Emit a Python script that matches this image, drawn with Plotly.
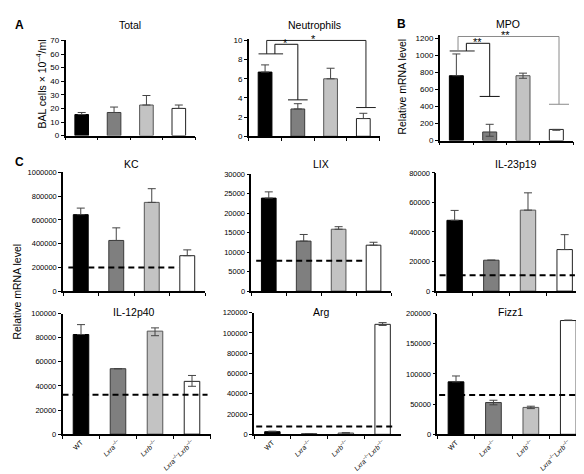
import plotly.graph_objects as go

W, H = 584, 474
FONT = "Liberation Sans, Arial, sans-serif"

# ---------------- data ----------------
groups = ["WT", "<i>Lxra</i><sup>–/–</sup>", "<i>Lxrb</i><sup>–/–</sup>",
          "<i>Lxra</i><sup>–/–</sup><i>Lxrb</i><sup>–/–</sup>"]
bar_colors = ["#000000", "#7f7f7f", "#c3c3c3", "#ffffff"]
bar_lines = ["#000000", "#3a3a3a", "#555555", "#222222"]

total_vals = [15.5, 17, 22.5, 20]
total_plus = [1.5, 4, 7, 2.5]
total_minus = [0, 0, 0, 0]

neut_vals = [6.7, 2.85, 6.0, 1.85]
neut_plus = [0.75, 0.55, 1.1, 0.55]
neut_minus = [0, 0, 0, 0]

mpo_vals = [760, 100, 760, 130]
mpo_plus = [255, 90, 30, 0]
mpo_minus = [0, 50, 30, 10]

kc_vals = [645000, 428000, 748000, 300000]
kc_plus = [55000, 106000, 115000, 49000]
kc_minus = [0, 0, 0, 0]
kc_base = 200000

lix_vals = [23900, 12850, 15900, 11800]
lix_plus = [1600, 1700, 650, 750]
lix_minus = [0, 0, 0, 0]
lix_base = 7800

il23_vals = [47900, 20900, 54800, 28100]
il23_plus = [6700, 0, 11700, 10100]
il23_minus = [0, 0, 0, 0]
il23_base = 10800

il12_vals = [82700, 54300, 85500, 43800]
il12_plus = [8200, 0, 2700, 4900]
il12_minus = [0, 0, 3800, 4100]
il12_base = 32600

arg_vals = [2600, 600, 1300, 108500]
arg_plus = [500, 0, 300, 1700]
arg_minus = [0, 0, 0, 1100]
arg_base = 7700

fizz_vals = [87000, 52700, 44600, 188600]
fizz_plus = [9700, 3800, 2000, 800]
fizz_minus = [0, 3800, 2000, 0]
fizz_base = 65200

# significance brackets: (from-group level, top level, target level, label)
neut_sig = [dict(start=8.6, top=10.0, end=3.0, label="*", target=3),
            dict(start=8.6, top=9.6, end=3.8, label="*", target=1)]
mpo_sig = [dict(start=1050, top=1220, end=425, label="**", target=3),
           dict(start=1050, top=1140, end=517, label="**", target=1)]

# ---------------- layout of panels (pixel geometry) ----------------
panels = [
    dict(title="Total", vals=total_vals, plus=total_plus, minus=total_minus,
         px=(57.5, 187), y0=126, ytop=29, tmax=70, rmax=70, dt=10, tpos=(122, 13)),
    dict(title="Neutrophils", vals=neut_vals, plus=neut_plus, minus=neut_minus,
         px=(240.7, 371.7), y0=126.7, ytop=29, tmax=10, rmax=10.2, dt=2, tpos=(306, 13)),
    dict(title="MPO", vals=mpo_vals, plus=mpo_plus, minus=mpo_minus,
         px=(431.7, 565), y0=131, ytop=26.7, tmax=1200, rmax=1240, dt=200, tpos=(500, 12)),
    dict(title="KC", vals=kc_vals, plus=kc_plus, minus=kc_minus, base=kc_base, dext=(-0.35, 2.75),
         px=(55, 197), y0=284.8, ytop=163.5, tmax=1000000, rmax=1000000, dt=200000, tpos=(123, 155)),
    dict(title="LIX", vals=lix_vals, plus=lix_plus, minus=lix_minus, base=lix_base, dext=(-0.36, 2.79),
         px=(243.3, 383), y0=284.5, ytop=165.5, tmax=30000, rmax=30000, dt=5000, tpos=(313, 155)),
    dict(title="IL-23p19", vals=il23_vals, plus=il23_plus, minus=il23_minus, base=il23_base, dext=(-0.41, 3.28),
         px=(428.3, 575), y0=284.5, ytop=164, tmax=80000, rmax=80000, dt=20000, tpos=(508, 155)),
    dict(title="IL-12p40", vals=il12_vals, plus=il12_plus, minus=il12_minus, base=il12_base, dext=(-0.5, 3.42),
         px=(54.5, 202.5), y0=430.3, ytop=307.5, tmax=100000, rmax=100000, dt=20000, tpos=(126, 306)),
    dict(title="Arg", vals=arg_vals, plus=arg_plus, minus=arg_minus, base=arg_base, dext=(-0.44, 3.31),
         px=(246, 393), y0=430.5, ytop=306.5, tmax=120000, rmax=120000, dt=20000, tpos=(313, 306)),
    dict(title="Fizz1", vals=fizz_vals, plus=fizz_plus, minus=fizz_minus, base=fizz_base, dext=(-0.45, 3.45),
         px=(429.3, 579), y0=430.5, ytop=307.5, tmax=200000, rmax=200000, dt=50000, tpos=(503, 306)),
]

fig = go.Figure()
layout = dict(width=W, height=H, margin=dict(l=0, r=0, t=0, b=0),
              paper_bgcolor="white", plot_bgcolor="white", showlegend=False,
              font=dict(family=FONT, color="#000000"))
shapes, annos = [], []

for i, p in enumerate(panels, start=1):
    sx = "" if i == 1 else str(i)
    xr, yr = "x" + sx, "y" + sx
    fig.add_trace(go.Bar(
        x=groups, y=p["vals"], width=0.42, xaxis=xr, yaxis=yr,
        marker=dict(color=bar_colors, line=dict(color=bar_lines, width=1)),
        error_y=dict(type="data", symmetric=False, array=p["plus"], arrayminus=p["minus"],
                     color="#444444", thickness=1, width=4),
        hoverinfo="skip"))
    y0, ytop = p["y0"], p["ytop"]
    top_px = y0 - (y0 - ytop) * p["rmax"] / p["tmax"]
    bottom_row = i >= 7
    layout["xaxis" + sx] = dict(
        domain=[p["px"][0] / W, p["px"][1] / W], anchor=yr, type="category",
        categoryorder="array", categoryarray=groups, range=[-0.5, 3.5],
        showline=True, linecolor="black", linewidth=1.5, ticks="outside",
        tickson="boundaries", ticklen=3, tickwidth=1, tickcolor="black",
        showgrid=False, zeroline=False, showticklabels=bottom_row,
        tickangle=-45, ticklabelstandoff=0,
        tickfont=dict(size=6.8, family=FONT, color="#000000"))
    layout["yaxis" + sx] = dict(
        domain=[1 - y0 / H, 1 - top_px / H], anchor=xr, range=[0, p["rmax"]],
        tickvals=[k * p["dt"] for k in range(int(round(p["tmax"] / p["dt"])) + 1)],
        tickformat="d", showline=True, linecolor="black", linewidth=1.5,
        ticks="outside", ticklen=3, tickwidth=1, tickcolor="black",
        showgrid=False, zeroline=False,
        tickfont=dict(size=8 if i <= 3 else 7.5, family=FONT, color="#000000"))
    if "base" in p:
        shapes.append(dict(type="line", xref=xr, yref=yr, x0=p["dext"][0], x1=p["dext"][1],
                           y0=p["base"], y1=p["base"],
                           line=dict(color="black", width=2, dash="6px,4px")))
    annos.append(dict(text=p["title"], x=p["tpos"][0] / W, y=1 - p["tpos"][1] / H,
                      xref="paper", yref="paper", showarrow=False,
                      xanchor="center", yanchor="middle",
                      font=dict(size=10.5, family=FONT, color="#000000")))


def add_brackets(sx, sig, big_color):
    xr, yr = "x" + sx, "y" + sx
    # horizontal cap above the WT group
    shapes.append(dict(type="line", xref=xr, yref=yr, x0=-0.2, x1=0.55,
                       y0=sig[0]["start"], y1=sig[0]["start"], line=dict(color="#222", width=1)))
    for k, s in enumerate(sig):
        xs = 0.05 if k == 0 else 0.30
        xt = s["target"] + (0.08 if s["target"] == 3 else 0.0)
        col = big_color if k == 0 else "#111"
        path = f"M{xs},{s['start']} L{xs},{s['top']} L{xt},{s['top']} L{xt},{s['end']}"
        shapes.append(dict(type="path", xref=xr, yref=yr, path=path,
                           line=dict(color=col, width=1)))
        shapes.append(dict(type="line", xref=xr, yref=yr, x0=xt - 0.3, x1=xt + 0.3,
                           y0=s["end"], y1=s["end"], line=dict(color=col, width=1)))
        annos.append(dict(text=s["label"], xref=xr, yref=yr,
                          x=(0.62 if k == 1 else 1.48), y=s["top"], showarrow=False,
                          xanchor="center", yanchor="middle", yshift=1,
                          font=dict(size=11, family=FONT, color="#000000")))


add_brackets("2", neut_sig, "#222")
add_brackets("3", mpo_sig, "#8a8a8a")

# panel letters
for letter, (lx, ly) in {"A": (11, 13), "B": (393, 12), "C": (11, 153)}.items():
    annos.append(dict(text=f"<b>{letter}</b>", x=lx / W, y=1 - ly / H, xref="paper", yref="paper",
                      showarrow=False, xanchor="center", yanchor="middle",
                      font=dict(size=12, family=FONT, color="#000000")))

# y-axis titles
for txt, (lx, ly) in [("BAL cells × 10<sup>–4</sup>/ml", (33, 74)),
                      ("Relative mRNA level", (394, 76)),
                      ("Relative mRNA level", (9, 285))]:
    annos.append(dict(text=txt, x=lx / W, y=1 - ly / H, xref="paper", yref="paper",
                      showarrow=False, textangle=-90, xanchor="center", yanchor="middle",
                      font=dict(size=10.5, family=FONT, color="#000000")))

layout["shapes"] = shapes
layout["annotations"] = annos
fig.update_layout(**layout)
fig.write_html("out.html")
